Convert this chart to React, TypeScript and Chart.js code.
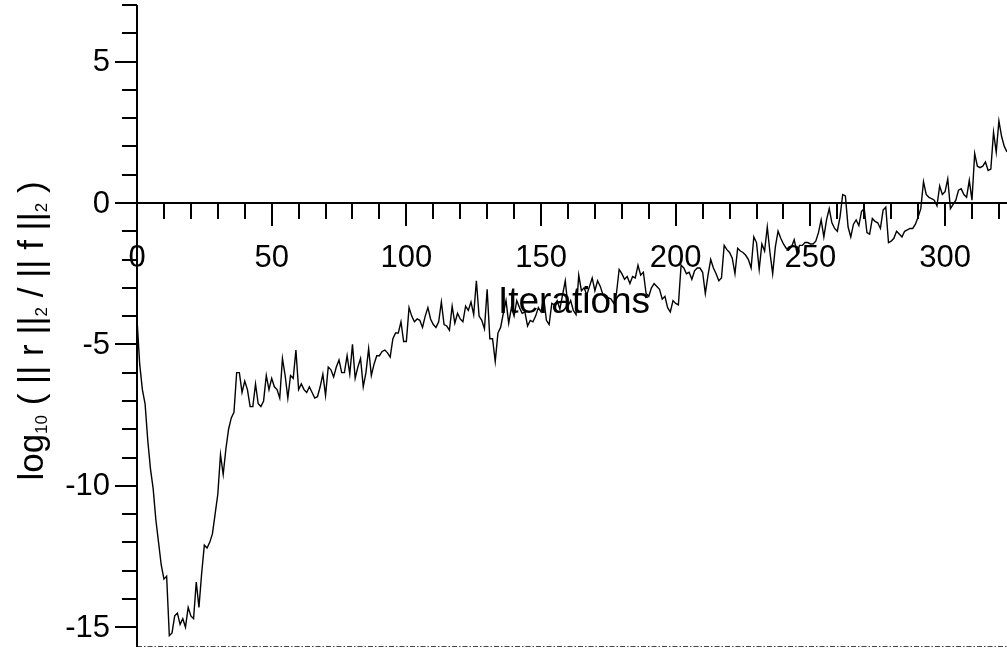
import { useEffect, useRef } from "react";
import { Chart, registerables } from "chart.js";

Chart.register(...registerables);

// log10(||r||2 / ||f||2) per iteration
const residualLog10 = [
  -4.1, -5.7, -6.6, -7.1, -8.4, -9.4, -10.1, -11.2, -12.0, -12.8,
  -13.3, -13.2, -15.3, -15.2, -14.6, -14.5, -14.9, -14.7, -15.0, -14.3,
  -14.6, -14.7, -13.4, -14.3, -13.1, -12.1, -12.2, -12.0, -11.7, -11.0,
  -10.3, -8.9, -9.6, -8.7, -8.0, -7.6, -7.4, -6.0, -6.0, -6.7,
  -6.3, -6.6, -7.2, -7.2, -6.4, -7.1, -7.2, -7.0, -6.1, -6.6,
  -6.2, -6.5, -6.6, -6.9, -5.5, -6.1, -6.9, -6.1, -6.2, -5.2,
  -6.6, -6.4, -6.6, -6.7, -6.5, -6.7, -6.9, -6.85, -6.5, -6.05,
  -6.8, -5.8, -5.9, -6.15, -5.8, -5.55, -6.0, -6.0, -5.4, -6.05,
  -5.0, -6.2, -5.8, -5.5, -6.5, -6.0, -5.15, -6.1, -5.7, -5.4,
  -5.4, -5.25, -5.2, -5.3, -5.45, -4.8, -4.6, -4.6, -4.2, -4.9,
  -4.9, -3.7, -4.0, -4.2, -4.1, -4.15, -4.4, -4.0, -3.7, -4.1,
  -4.3, -4.4, -4.2, -3.5, -4.3, -4.35, -4.5, -3.65, -4.25, -3.9,
  -4.1, -4.2, -3.65, -3.8, -3.5, -3.95, -2.75, -4.0, -4.15, -4.45,
  -3.05, -4.8, -4.8, -5.6, -4.6, -4.4, -3.9, -3.45, -4.25, -3.7,
  -4.0, -3.45, -3.7, -3.9, -3.85, -4.35, -4.15, -4.2, -4.0, -3.7,
  -3.85, -3.35, -4.15, -4.3, -3.55, -3.6, -3.45, -3.75, -3.25, -2.75,
  -3.65, -3.45, -3.8, -3.95, -2.55, -3.1, -3.0, -3.25, -2.95, -2.65,
  -3.1, -2.75, -2.95, -3.25, -3.35, -3.35, -3.4, -3.55, -3.2, -2.35,
  -2.5, -2.7, -2.6, -2.85, -2.6, -2.65, -2.2, -2.55, -2.45, -3.2,
  -3.3, -3.0, -2.85, -2.95, -3.05, -3.4, -3.3, -3.7, -3.85, -3.45,
  -3.55, -3.6, -2.2, -2.3, -2.5, -2.45, -2.7, -2.4, -2.3, -2.3,
  -2.45, -3.2, -2.55, -2.0, -2.3, -2.5, -2.75, -2.65, -1.5, -1.65,
  -1.75, -1.95, -2.5, -1.6, -1.7, -1.75, -1.85, -2.0, -2.3, -1.2,
  -1.4, -2.35, -1.45, -1.7, -0.85, -1.75, -2.5, -1.55, -1.0, -1.25,
  -1.45, -1.6, -1.65, -1.55, -1.3, -1.75, -1.5, -1.5, -1.4, -1.4,
  -1.45, -1.45, -1.35, -1.05, -0.6, -1.2, -0.6, -0.2, -0.7, -0.9,
  -1.0, -0.5, 0.3, 0.25, -0.85, -1.2, -0.75, -0.6, -0.8, -0.3,
  -0.2, -1.05, -1.1, -0.55, -0.65, -0.7, -0.9, -0.25, -0.15, -1.4,
  -1.35, -1.25, -1.0, -1.1, -1.2, -1.0, -0.95, -0.9, -0.9, -0.75,
  -0.5, -0.2, 0.75, 0.3, 0.2, 0.15, 0.1, -0.1, 0.6, 0.3,
  0.4, 0.85, -0.2, -0.05, 0.1, 0.45, 0.5, 0.3, 0.2, 0.8,
  0.1, 1.75, 1.3, 1.25, 1.3, 1.45, 1.15, 1.2, 2.5, 1.8,
  2.9, 2.35, 2.0, 1.8,
];

const iterations = residualLog10.map((_, i) => i);

const xMajorTicks = [0, 50, 100, 150, 200, 250, 300];
const xTickLabels = ["0", "50", "100", "150", "200", "250", "300"];
const xMinorTicks = [
  10, 20, 30, 40, 60, 70, 80, 90, 110, 120, 130, 140, 160, 170, 180, 190,
  210, 220, 230, 240, 260, 270, 280, 290, 310, 320,
];
const yMajorTicks = [5, 0, -5, -10, -15];
const yTickLabels = ["5", "0", "-5", "-10", "-15"];
const yMinorTicks = [
  7, 6, 4, 3, 2, 1, -1, -2, -3, -4, -6, -7, -8, -9, -11, -12, -13, -14,
];

const xTitle = "Iterations";
// y title pieces: [text, isSubscript]
const yTitleParts: [string, boolean][] = [
  ["log", false],
  ["10", true],
  [" ( || r ||", false],
  ["2", true],
  [" / || f ||", false],
  ["2", true],
  [" )", false],
];

const FONT = '"Liberation Sans", Arial, Helvetica, sans-serif';

const axesPlugin = {
  id: "customAxes",
  beforeDatasetsDraw(chart: any) {
    const { ctx, chartArea } = chart;
    ctx.save();
    ctx.strokeStyle = "#444";
    ctx.lineWidth = 1;
    ctx.setLineDash([5, 2, 1.5, 2]);
    ctx.beginPath();
    ctx.moveTo(chartArea.left, chartArea.bottom - 0.5);
    ctx.lineTo(chartArea.right, chartArea.bottom - 0.5);
    ctx.stroke();
    ctx.restore();
  },
  afterDatasetsDraw(chart: any) {
    const { ctx, chartArea } = chart;
    const xs = chart.scales.x;
    const ys = chart.scales.y;
    const x0 = xs.getPixelForValue(0);
    const y0 = ys.getPixelForValue(0);
    ctx.save();
    ctx.strokeStyle = "#000";
    ctx.fillStyle = "#000";
    ctx.lineWidth = 2;
    ctx.setLineDash([]);
    // axis lines
    ctx.beginPath();
    ctx.moveTo(x0, chartArea.top);
    ctx.lineTo(x0, chartArea.bottom);
    ctx.stroke();
    ctx.beginPath();
    ctx.moveTo(x0, y0);
    ctx.lineTo(chartArea.right, y0);
    ctx.stroke();
    // x ticks (downward)
    ctx.beginPath();
    xMajorTicks.forEach((v) => {
      const px = Math.round(xs.getPixelForValue(v));
      ctx.moveTo(px, y0);
      ctx.lineTo(px, y0 + 23);
    });
    xMinorTicks.forEach((v) => {
      const px = Math.round(xs.getPixelForValue(v));
      ctx.moveTo(px, y0);
      ctx.lineTo(px, y0 + 16);
    });
    // y ticks (leftward)
    yMajorTicks.forEach((v) => {
      const py = Math.round(ys.getPixelForValue(v));
      ctx.moveTo(x0, py);
      ctx.lineTo(x0 - 22, py);
    });
    yMinorTicks.forEach((v) => {
      const py = Math.round(ys.getPixelForValue(v));
      ctx.moveTo(x0, py);
      ctx.lineTo(x0 - 15, py);
    });
    ctx.stroke();

    // tick labels
    ctx.font = `31px ${FONT}`;
    ctx.textAlign = "center";
    ctx.textBaseline = "alphabetic";
    xMajorTicks.forEach((v, i) => {
      ctx.fillText(xTickLabels[i], xs.getPixelForValue(v), y0 + 64);
    });
    ctx.textAlign = "right";
    ctx.textBaseline = "middle";
    yMajorTicks.forEach((v, i) => {
      ctx.fillText(yTickLabels[i], x0 - 27, ys.getPixelForValue(v) + 1);
    });

    // x title
    ctx.font = `37px ${FONT}`;
    ctx.textAlign = "center";
    ctx.textBaseline = "alphabetic";
    ctx.fillText(xTitle, (chartArea.left + chartArea.right) / 2 + 2, y0 + 110);

    // y title (rotated)
    const mainFont = `35px ${FONT}`;
    const subFont = `17px ${FONT}`;
    let total = 0;
    yTitleParts.forEach(([t, sub]) => {
      ctx.font = sub ? subFont : mainFont;
      total += ctx.measureText(t).width;
    });
    ctx.translate(43, 331);
    ctx.rotate(-Math.PI / 2);
    ctx.textAlign = "left";
    ctx.textBaseline = "alphabetic";
    let u = -total / 2;
    yTitleParts.forEach(([t, sub]) => {
      ctx.font = sub ? subFont : mainFont;
      ctx.fillText(t, u, sub ? 4 : 0);
      u += ctx.measureText(t).width;
    });
    ctx.restore();
  },
};

export default function App() {
  const canvasRef = useRef<HTMLCanvasElement | null>(null);

  useEffect(() => {
    document.body.style.margin = "0";
    const canvas = canvasRef.current;
    if (!canvas) return;
    const chart = new Chart(canvas, {
      type: "line",
      data: {
        datasets: [
          {
            data: iterations.map((it, i) => ({ x: it, y: residualLog10[i] })),
            borderColor: "#000",
            borderWidth: 1.4,
            pointRadius: 0,
            tension: 0,
            fill: false,
          },
        ],
      },
      options: {
        animation: false,
        responsive: false,
        devicePixelRatio: 1,
        layout: { padding: { left: 137, right: 0, top: 5, bottom: 2 } },
        plugins: {
          legend: { display: false },
          tooltip: { enabled: false },
          title: { display: false },
        },
        scales: {
          x: { type: "linear", min: 0, max: 323, display: false },
          y: { type: "linear", min: -15.7, max: 7, display: false },
        },
      },
      plugins: [axesPlugin],
    });
    return () => chart.destroy();
  }, []);

  return (
    <div style={{ position: "absolute", left: 0, top: 0, background: "#fff" }}>
      <canvas ref={canvasRef} width={1007} height={649} style={{ display: "block" }} />
    </div>
  );
}
